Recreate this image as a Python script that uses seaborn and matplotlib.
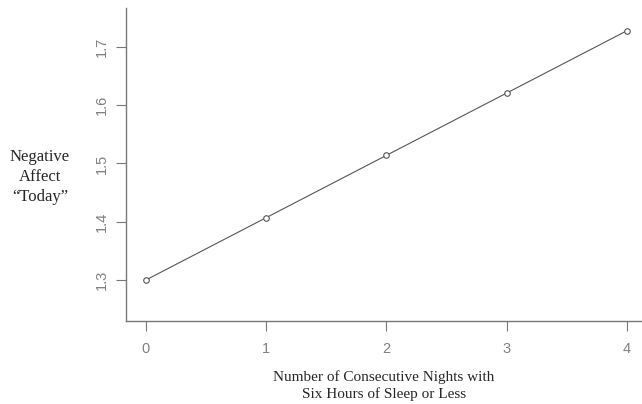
import seaborn as sns
import pandas as pd
import matplotlib.pyplot as plt

nights = [0, 1, 2, 3, 4]
neg_affect = [1.300, 1.407, 1.514, 1.621, 1.728]
x_ticks = [0, 1, 2, 3, 4]
y_ticks = [1.3, 1.4, 1.5, 1.6, 1.7]

df = pd.DataFrame({"nights": nights, "affect": neg_affect})

sns.set_style("ticks")
fig = plt.figure(figsize=(6.42, 4.04), dpi=100)
ax = fig.add_axes([126 / 642, 83 / 404, 1 - 126 / 642, 313 / 404])

sns.lineplot(data=df, x="nights", y="affect", ax=ax, color="#555555", linewidth=0.8,
             marker="o", markersize=4, markerfacecolor="white",
             markeredgecolor="#555555", markeredgewidth=0.8)

ax.set_xlim(-0.166, 4.125)
ax.set_ylim(1.2295, 1.767)
ax.set_xticks(x_ticks)
ax.set_xticklabels([str(v) for v in x_ticks])
ax.set_yticks(y_ticks)
ax.set_yticklabels([f"{v:.1f}" for v in y_ticks], rotation=90, va="center")

for s in ["top", "right"]:
    ax.spines[s].set_visible(False)
for s in ["left", "bottom"]:
    ax.spines[s].set_color("#777777")
    ax.spines[s].set_linewidth(1.0)
ax.tick_params(colors="#777777", labelcolor="#808080", length=7, width=0.8,
               labelsize=10.5)
ax.tick_params(axis="x", pad=8)
ax.tick_params(axis="y", pad=5)
for lab in ax.get_xticklabels() + ax.get_yticklabels():
    lab.set_family("Liberation Sans")

ax.set_xlabel("Number of Consecutive Nights with\nSix Hours of Sleep or Less",
              family="Liberation Serif", fontsize=11, labelpad=10, linespacing=1.3)
ax.set_ylabel("Negative\nAffect\n\u201cToday\u201d", family="Liberation Serif",
              fontsize=12, rotation=0, ha="center", va="center", linespacing=1.3)
ax.yaxis.set_label_coords(-0.167, 0.46)

fig.savefig("out.png", dpi=100)
